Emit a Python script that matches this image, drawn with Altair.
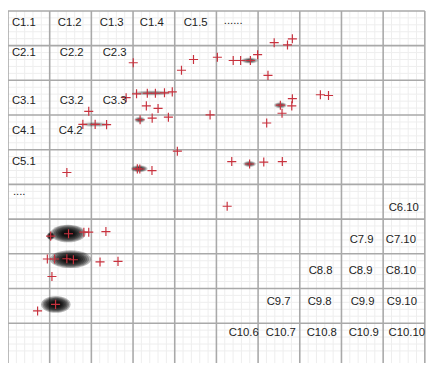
import altair as alt
import pandas as pd

# ---- data (grid units: x = column from left edge, y = row from top edge) ----
plus_x = [3.005, 4.162, 4.450, 5.023, 2.834, 3.084, 3.342, 3.536, 3.754, 3.941,
          3.319, 3.600, 1.937, 1.796, 2.091, 2.365, 3.169, 3.459, 3.848, 4.848,
          4.063, 1.412, 3.162, 3.103, 3.454, 6.386, 6.822, 6.705, 5.403, 5.581,
          5.815, 5.988, 6.237, 7.494, 7.689, 6.822, 6.808, 6.534, 6.574, 6.206,
          5.368, 5.796, 6.136, 6.581, 5.258, 1.023, 1.452, 1.820, 1.937, 2.349,
          0.944, 1.117, 1.412, 1.569, 2.208, 2.639, 1.054, 1.141, 0.710]
plus_y = [1.493, 1.709, 1.401, 1.336, 2.501, 2.389, 2.373, 2.373, 2.361, 2.333,
          2.737, 2.810, 2.894, 3.269, 3.269, 3.277, 3.137, 3.090, 3.062, 2.997,
          4.042, 4.658, 4.557, 4.552, 4.602, 0.916, 0.804, 0.980, 1.429, 1.429,
          1.429, 1.261, 1.857, 2.417, 2.437, 2.529, 2.737, 2.717, 2.950, 3.230,
          4.342, 4.412, 4.356, 4.342, 5.630, 6.490, 6.423, 6.378, 6.378, 6.359,
          7.151, 7.151, 7.143, 7.171, 7.235, 7.218, 7.655, 8.459, 8.647]

# dark blurred spots: centre, width and height (px), strength
blob_x = [1.440, 1.499, 1.148, 1.023, 3.466, 3.16, 3.15, 5.80, 6.534, 5.796, 2.09]
blob_y = [6.415, 7.157, 8.459, 6.490, 2.367, 3.137, 4.55, 1.43, 2.717, 4.41, 3.27]
blob_w = [36, 42, 30, 8, 42, 11, 17, 17, 13, 13, 30]
blob_h = [18, 18, 17, 8, 5, 6, 7, 6, 6, 6, 5]
blob_k = [1.0, 1.0, 1.0, 1.0, 0.3, 0.45, 0.6, 0.45, 0.45, 0.45, 0.25]

labels = ["C1.1", "C1.2", "C1.3", "C1.4", "C1.5", "......",
          "C2.1", "C2.2", "C2.3",
          "C3.1", "C3.2", "C3.3",
          "C4.1", "C4.2",
          "C5.1", "....",
          "C6.10",
          "C7.9", "C7.10",
          "C8.8", "C8.9", "C8.10",
          "C9.7", "C9.8", "C9.9", "C9.10",
          "C10.6", "C10.7", "C10.8", "C10.9", "C10.10"]
label_x = [0.094, 1.194, 2.201, 3.162, 4.215, 5.176,
           0.094, 1.241, 2.272,
           0.094, 1.241, 2.272,
           0.094, 1.218,
           0.094, 0.117,
           9.133,
           8.197, 9.063,
           7.213, 8.173, 9.063,
           6.206, 7.190, 8.220, 9.087,
           5.293, 6.183, 7.166, 8.173, 9.130]
label_y = [0.336, 0.336, 0.336, 0.336, 0.336, 0.294,
           1.224, 1.224, 1.224,
           2.605, 2.605, 2.605,
           3.473, 3.473,
           4.342, 5.224,
           5.678,
           6.611, 6.611,
           7.499, 7.499, 7.499,
           8.403, 8.403, 8.403, 8.403,
           9.272, 9.272, 9.272, 9.272, 9.272]

XMAX, YMAX = 10.1, 10.15
major_v = list(range(11))
major_h = list(range(10))
minor_v = [i / 5 for i in range(51) if i % 5]
minor_h = [i / 5 for i in range(1, 51) if i % 5]

# ---- chart ----
xs = alt.Scale(domain=[0, XMAX], nice=False, zero=False)
ys = alt.Scale(domain=[0, YMAX], nice=False, zero=False, reverse=True)
X = lambda f: alt.X(f, type="quantitative", scale=xs, axis=None)
Y = lambda f: alt.Y(f, type="quantitative", scale=ys, axis=None)


def ellipse(r):
    return f"M-1,0A1,{r} 0 1,0 1,0A1,{r} 0 1,0 -1,0Z"


vdf = pd.DataFrame({"v": minor_v + major_v, "y0": 0.0, "y1": YMAX,
                    "kind": ["minor"] * len(minor_v) + ["major"] * len(major_v)})
hdf = pd.DataFrame({"h": minor_h + major_h, "x0": 0.0, "x1": 10.0,
                    "kind": ["minor"] * len(minor_h) + ["major"] * len(major_h)})

mv = alt.Chart(vdf).transform_filter("datum.kind == 'minor'").mark_rule(
    color="#eeeeee", strokeWidth=1).encode(x=X("v"), y=Y("y0"), y2="y1")
mh = alt.Chart(hdf).transform_filter("datum.kind == 'minor'").mark_rule(
    color="#eeeeee", strokeWidth=1).encode(y=Y("h"), x=X("x0"), x2="x1")
Mv = alt.Chart(vdf).transform_filter("datum.kind == 'major'").mark_rule(
    color="#a9a9a9", strokeWidth=1.6).encode(x=X("v"), y=Y("y0"), y2="y1")
Mh = alt.Chart(hdf).transform_filter("datum.kind == 'major'").mark_rule(
    color="#a9a9a9", strokeWidth=1.6).encode(y=Y("h"), x=X("x0"), x2="x1")

# blurred spots drawn as stacked translucent ellipses (soft halo, black core)
rows = []
scales = [1.0, 0.9, 0.8, 0.7, 0.6, 0.5, 0.42, 0.34]
for x, y, w, h, k in zip(blob_x, blob_y, blob_w, blob_h, blob_k):
    for s in scales:
        rows.append({"x": x, "y": y, "size": (w * s) ** 2,
                     "shape": ellipse(round(h / w, 3)), "op": 0.28 * k})
blob_df = pd.DataFrame(rows)
blobs = alt.Chart(blob_df).mark_point(filled=True, color="black", strokeWidth=0).encode(
    x=X("x"), y=Y("y"),
    size=alt.Size("size:Q", scale=None, legend=None),
    shape=alt.Shape("shape:N", scale=None, legend=None),
    opacity=alt.Opacity("op:Q", scale=None, legend=None))

plus_df = pd.DataFrame({"x": plus_x, "y": plus_y})
pluses = alt.Chart(plus_df).mark_point(
    shape="M-1,0L1,0M0,-1L0,1", size=85, filled=False,
    stroke="#c8323e", strokeWidth=1.2, opacity=1).encode(x=X("x"), y=Y("y"))

label_df = pd.DataFrame({"t": labels, "x": label_x, "y": label_y})
texts = alt.Chart(label_df).mark_text(
    align="left", baseline="middle", fontSize=11.5,
    font="Liberation Sans, Arial, sans-serif",
    color="#222222").encode(x=X("x"), y=Y("y"), text="t:N")

chart = alt.layer(mv, mh, Mv, Mh, blobs, pluses, texts).properties(
    width=428, height=358, padding=0,
    autosize=alt.AutoSizeParams(type="none"),
).configure_view(stroke=None)

chart.save("out.html", embed_options={"renderer": "svg", "actions": False})
